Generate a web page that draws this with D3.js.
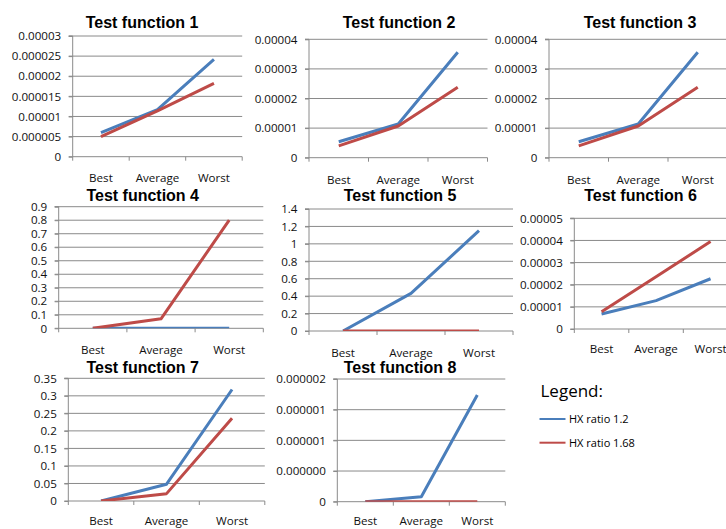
<!DOCTYPE html>
<html><head><meta charset="utf-8">
<script src="https://cdn.jsdelivr.net/npm/d3@7"></script>
<style>
html,body{margin:0;padding:0;background:#fff;}
svg{display:block;}
</style></head>
<body>
<script>
// ---------- data ----------
const categories = ["Best", "Average", "Worst"];
const titles = ["Test function 1","Test function 2","Test function 3","Test function 4",
                "Test function 5","Test function 6","Test function 7","Test function 8"];
const seriesNames = ["HX ratio 1.2", "HX ratio 1.68"];
const hx12  = [
  [0.0000060, 0.0000117, 0.0000242],
  [0.0000054, 0.0000114, 0.0000356],
  [0.0000054, 0.0000114, 0.0000356],
  [0.0005, 0.0005, 0.0005],
  [0, 0.432, 1.151],
  [0.0000068, 0.0000128, 0.0000227],
  [0, 0.048, 0.318],
  [0, 0.00000008, 0.00000174]
];
const hx168 = [
  [0.0000050, 0.0000114, 0.0000182],
  [0.0000040, 0.0000107, 0.0000238],
  [0.0000040, 0.0000107, 0.0000238],
  [0, 0.07, 0.80],
  [0, 0, 0],
  [0.0000078, 0.0000236, 0.0000395],
  [0, 0.021, 0.236],
  [0, 0, 0]
];
const tickValues = [
  [0,0.000005,0.00001,0.000015,0.00002,0.000025,0.00003],
  [0,0.00001,0.00002,0.00003,0.00004],
  [0,0.00001,0.00002,0.00003,0.00004],
  [0,0.1,0.2,0.3,0.4,0.5,0.6,0.7,0.8,0.9],
  [0,0.2,0.4,0.6,0.8,1,1.2,1.4],
  [0,0.00001,0.00002,0.00003,0.00004,0.00005],
  [0,0.05,0.1,0.15,0.2,0.25,0.3,0.35],
  [0,0.0000005,0.000001,0.0000015,0.000002]
];
const tickLabels = [
  ["0","0.000005","0.00001","0.000015","0.00002","0.000025","0.00003"],
  ["0","0.00001","0.00002","0.00003","0.00004"],
  ["0","0.00001","0.00002","0.00003","0.00004"],
  ["0","0.1","0.2","0.3","0.4","0.5","0.6","0.7","0.8","0.9"],
  ["0","0.2","0.4","0.6","0.8","1","1.2","1.4"],
  ["0","0.00001","0.00002","0.00003","0.00004","0.00005"],
  ["0","0.05","0.1","0.15","0.2","0.25","0.3","0.35"],
  ["0","0.000000","0.000001","0.000001","0.000002"]
];

// ---------- layout ----------
const layout = [
  {l:72.7, r:242.2, t:36,    b:156.7, tx:142,   ty:28.3,  cy:182},
  {l:309,  r:487.5, t:39.3,  b:157.7, tx:399,   ty:28.3,  cy:184},
  {l:549,  r:727.5, t:39.3,  b:157.7, tx:640,   ty:28.3,  cy:184},
  {l:58.7, r:263.3, t:206.7, b:328.3, tx:142.7, ty:200.7, cy:354},
  {l:309,  r:513,   t:209,   b:331,   tx:400,   ty:200.7, cy:357},
  {l:574.3,r:737.8, t:218.3, b:329,   tx:640.5, ty:200.7, cy:353},
  {l:68.3, r:264.8, t:378.3, b:501,   tx:142.7, ty:372.7, cy:524.5},
  {l:337.3,r:505.3, t:379,   b:501.7, tx:400,   ty:372.7, cy:524.5}
];
const colors = ["#4a7ebb", "#be4b48"];
const gridColor = "#8a8a8a";
const tickFont = "'Open Sans', sans-serif";
const tickSize = "11.6px";

const svg = d3.select("body").append("svg").attr("width",726).attr("height",529);
svg.append("rect").attr("width",726).attr("height",529).attr("fill","#fff");
const defs = svg.append("defs");

layout.forEach((L, i) => {
  const g = svg.append("g");
  const x = d3.scaleBand().domain(categories).range([L.l, L.r]).paddingInner(0).paddingOuter(0);
  const tv = tickValues[i];
  const y = d3.scaleLinear().domain([0, tv[tv.length-1]]).range([L.b, L.t]);

  // gridlines
  g.append("g").selectAll("line").data(tv.slice(1)).join("line")
    .attr("x1", L.l - 4).attr("x2", L.r).attr("y1", d => y(d)).attr("y2", d => y(d))
    .attr("stroke", gridColor).attr("stroke-width", 1);

  // y axis
  const ya = d3.axisLeft(y).tickValues(tv).tickSize(4).tickPadding(7.5)
     .tickFormat((d, k) => tickLabels[i][k]);
  const yg = g.append("g").attr("transform", `translate(${L.l},0)`).call(ya);
  yg.select(".domain").attr("stroke", gridColor).attr("d", `M-4,${L.t}H0V${L.b}`);
  yg.selectAll(".tick line").attr("stroke", gridColor);
  yg.selectAll(".tick text").attr("fill","#111").style("font-family", tickFont).style("font-size", tickSize);

  // x axis
  g.append("line").attr("x1", L.l - 4).attr("x2", L.r).attr("y1", L.b).attr("y2", L.b)
    .attr("stroke", gridColor);
  const edges = categories.map(c => x(c)).concat([x(categories[2]) + x.bandwidth()]);
  g.append("g").selectAll("line").data(edges).join("line")
    .attr("x1", d => d).attr("x2", d => d).attr("y1", L.b).attr("y2", L.b + 4)
    .attr("stroke", gridColor);
  g.append("g").selectAll("text").data(categories).join("text")
    .attr("x", d => x(d) + x.bandwidth()/2).attr("y", L.cy)
    .attr("text-anchor","middle").attr("fill","#111")
    .style("font-family", tickFont).style("font-size", tickSize).text(d => d);

  // clip
  const cid = "clip" + i;
  defs.append("clipPath").attr("id", cid).append("rect")
    .attr("x", L.l).attr("y", L.t - 5).attr("width", L.r - L.l).attr("height", L.b - L.t + 5);

  const line = d3.line().x((d, k) => x(categories[k]) + x.bandwidth()/2).y(d => y(d));
  [hx12[i], hx168[i]].forEach((s, si) => {
    g.append("path").attr("d", line(s)).attr("fill","none")
      .attr("stroke", colors[si]).attr("stroke-width", 3)
      .attr("stroke-linejoin","round")
      .attr("clip-path", `url(#${cid})`);
  });

  // title
  svg.append("text").attr("x", L.tx).attr("y", L.ty).attr("text-anchor","middle")
    .style("font-family","'Liberation Sans', Arial, sans-serif").style("font-weight","bold")
    .style("font-size","16px").attr("fill","#000").text(titles[i]);
});

// legend
const lg = svg.append("g");
lg.append("text").attr("x", 540.5).attr("y", 396.5)
  .style("font-family","'Open Sans', sans-serif").style("font-size","17px").attr("fill","#000")
  .text("Legend:");
seriesNames.forEach((n, k) => {
  const yy = 419 + k * 23.7;
  lg.append("line").attr("x1", 539.5).attr("x2", 565.5).attr("y1", yy).attr("y2", yy)
    .attr("stroke", colors[k]).attr("stroke-width", 2);
  lg.append("text").attr("x", 569).attr("y", yy + 4)
    .style("font-family","'Open Sans', sans-serif").style("font-size","11px").attr("fill","#000")
    .text(n);
});
</script>
</body></html>
